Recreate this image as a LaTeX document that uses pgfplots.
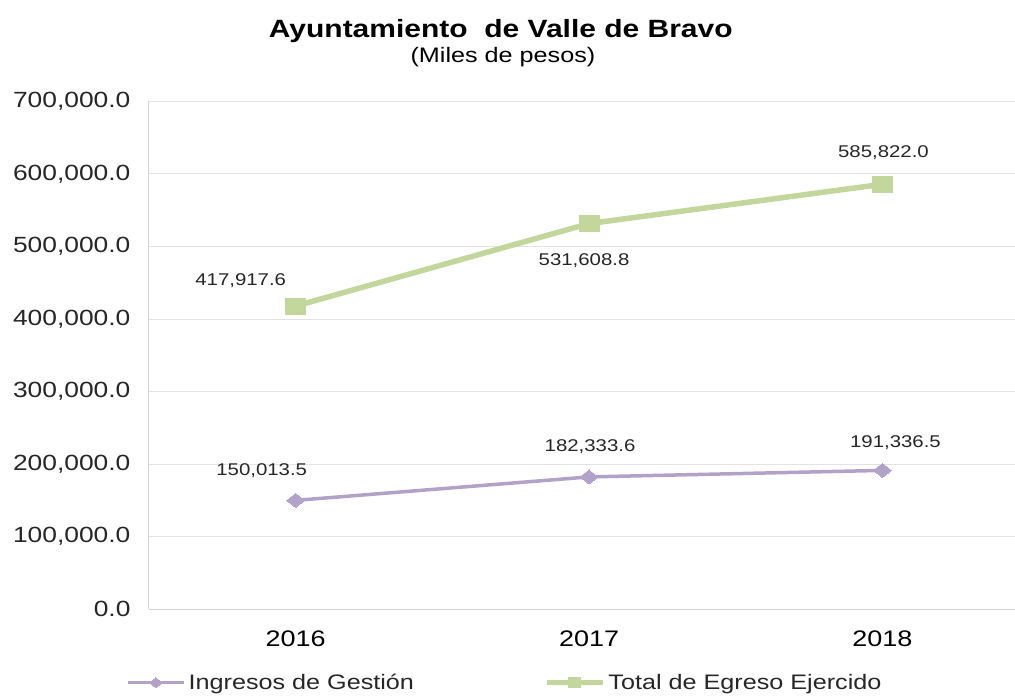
\documentclass[border=0pt]{standalone}
\usepackage{pgfplots}
\pgfplotsset{compat=1.18}
\usepackage{fontspec}
\setmainfont[FakeStretch=1.2]{Liberation Sans}
\definecolor{ingresos}{HTML}{B3A2C7}
\definecolor{egreso}{HTML}{C3D69B}
\definecolor{gridc}{HTML}{E3E3E3}
\definecolor{axisc}{HTML}{D4D4D4}
\definecolor{txt}{HTML}{262626}

\newcommand{\fs}[1]{\fontsize{#1}{#1}\selectfont}

\begin{document}
\begin{tikzpicture}
\begin{axis}[
  scale only axis, width=866pt, height=508pt,
  xmin=-0.5, xmax=2.45, ymin=0, ymax=700000,
  clip=false,
  axis lines*=left, axis line style={axisc, line width=1pt},
  xtick={0,1,2}, xticklabels={2016,2017,2018},
  ytick={0,100000,...,700000},
  major tick length=0pt,
  ymajorgrids, grid style={gridc, line width=1pt},
  scaled y ticks=false,
  /pgf/number format/.cd, fixed, fixed zerofill, precision=1, 1000 sep={,}, assume math mode=true,
  /pgfplots/.cd,
  yticklabel style={font=\fs{22}, text=txt, xshift=-15pt},
  xticklabel style={font=\fs{22.5}, text=black, yshift=-18pt},
  legend style={at={(-0.0266,-0.1447)}, anchor=west, draw=none, fill=none,
    inner sep=0pt, font=\fs{21}, text=txt, column sep=1pt,
    /tikz/every even column/.append style={column sep=128pt}},
  legend columns=2,
  legend image code/.code={\draw[#1, mark size=5pt, mark repeat=2, mark phase=2]
    plot coordinates {(0pt,0pt) (28pt,0pt) (56pt,0pt)};},
]
\addplot[ingresos, line width=3.5pt, mark=diamond*, mark size=7pt,
  mark options={xscale=1.7, line width=0pt}] coordinates {
  (0,150013.5) (1,182333.6) (2,191336.5)};
\addlegendentry{Ingresos de Gestión}
\addplot[egreso, line width=5.5pt, mark=square*, mark size=8pt,
  mark options={xscale=1.25, line width=0pt}] coordinates {
  (0,417917.6) (1,531608.8) (2,585822.0)};
\addlegendentry{Total de Egreso Ejercido}

% data labels
\begin{scope}[every node/.style={font=\fs{17}, text=txt}]
\node[xshift=-55pt, yshift=25pt] at (axis cs:0,417917.6) {417,917.6};
\node[xshift=-5pt, yshift=-37pt] at (axis cs:1,531608.8) {531,608.8};
\node[xshift=1pt, yshift=32pt] at (axis cs:2,585822.0) {585,822.0};
\node[xshift=-34pt, yshift=30pt] at (axis cs:0,150013.5) {150,013.5};
\node[xshift=1pt, yshift=30pt] at (axis cs:1,182333.6) {182,333.6};
\node[xshift=13pt, yshift=28pt] at (axis cs:2,191336.5) {191,336.5};
\end{scope}

% title
\node[font=\bfseries\fs{25}, text=black] at (rel axis cs:0.4065,1.139) {Ayuntamiento\ \ de Valle de Bravo};
\node[font=\fs{21}, text=black] at (rel axis cs:0.409,1.087) {(Miles de pesos)};

\coordinate (bl) at (rel axis cs:-0.1721,-0.1703);
\coordinate (tr) at (rel axis cs:1,1.1998);
\end{axis}
\path (bl) rectangle (tr);
\end{tikzpicture}
\end{document}
